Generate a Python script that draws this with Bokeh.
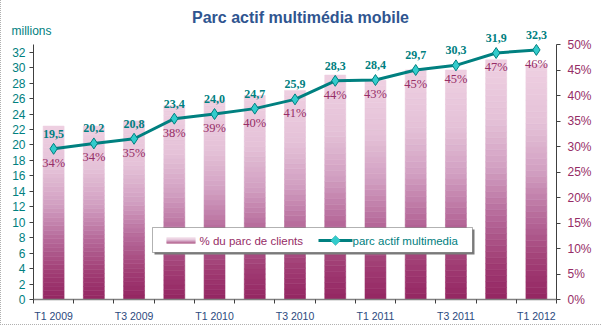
import numpy as np
from bokeh.plotting import figure
from bokeh.models import (Range1d, LinearAxis, FixedTicker, PrintfTickFormatter, CustomJSTickFormatter,
                          ColumnDataSource, LabelSet, Label, BoxAnnotation, PolyAnnotation,
                          InlineStyleSheet)
from bokeh.embed import file_html
from bokeh.resources import INLINE

# ---------------- data ----------------
quarters = ["T1 2009", "T2 2009", "T3 2009", "T4 2009",
            "T1 2010", "T2 2010", "T3 2010", "T4 2010",
            "T1 2011", "T2 2011", "T3 2011", "T4 2011",
            "T1 2012"]
parc_millions = [19.5, 20.2, 20.8, 23.4, 24.0, 24.7, 25.9, 28.3, 28.4, 29.7, 30.3, 31.9, 32.3]
pct_clients = [34, 34, 35, 38, 39, 40, 41, 44, 43, 45, 45, 47, 46]
left_ticks = list(range(0, 33, 2))
right_ticks = list(range(0, 51, 5))
LEFT_MAX, RIGHT_MAX = 33, 50

FONT = "Liberation Sans"
TEAL = "#008080"
MAROON = "#962D66"
NAVY = "#2B4A7E"

# layout (pixels)
W, H = 601, 326
FRAME_L, FRAME_R, AXIS_TOP, FRAME_B = 33, 556, 44, 299
ext = FRAME_B / (FRAME_B - AXIS_TOP)   # frame reaches the top of the canvas

xs = list(range(len(quarters)))

p = figure(width=W, height=H, output_backend="svg", toolbar_location=None,
           x_range=Range1d(-0.5, len(quarters) - 0.5), y_range=Range1d(0, LEFT_MAX * ext),
           min_border_left=FRAME_L, min_border_right=W - FRAME_R, min_border_top=0,
           min_border_bottom=H - FRAME_B,
           background_fill_color="white", border_fill_color="white")
p.outline_line_color = None
p.xgrid.visible = False
p.ygrid.visible = False
p.extra_y_ranges = {"pct": Range1d(0, RIGHT_MAX * ext)}
p.stylesheets = [InlineStyleSheet(css="""
:host { position: relative; }
:host::after { content: ""; position: absolute; left: 0; top: 0; right: 0; bottom: 1px;
  box-sizing: border-box; border-left: 1px dotted #b0b0b0; border-bottom: 1px dotted #b0b0b0;
  pointer-events: none; z-index: 100; }
""")]

# ---------------- gradient bars ----------------
stops = [(0.0, (148, 38, 98)), (0.15, (160, 60, 115)), (0.35, (182, 106, 154)),
         (0.55, (210, 160, 194)), (0.75, (228, 193, 215)), (1.0, (239, 208, 226))]

def grad(f):
    for (f0, c0), (f1, c1) in zip(stops[:-1], stops[1:]):
        if f <= f1:
            t = (f - f0) / (f1 - f0)
            c = [int(round(a + (b - a) * t)) for a, b in zip(c0, c1)]
            return "#%02x%02x%02x" % tuple(c)
    return "#%02x%02x%02x" % stops[-1][1]

N = 40
bx, bb, bt, bc = [], [], [], []
for x, v in zip(xs, pct_clients):
    for k in range(N):
        bx.append(x)
        bb.append(v * k / N)
        bt.append(v * (k + 1) / N)
        bc.append(grad((k + 0.5) / N))
bars = ColumnDataSource(dict(x=bx, bottom=bb, top=bt, color=bc))
p.vbar(x="x", bottom="bottom", top="top", width=0.52, source=bars, y_range_name="pct",
       fill_color="color", line_color="color", line_width=0.6)

# ---------------- line ----------------
src = ColumnDataSource(dict(
    x=xs, parc=parc_millions,
    vlab=[("%.1f" % v).replace(".", ",") for v in parc_millions],
    plab=["%d%%" % v for v in pct_clients]))
p.line("x", "parc", source=src, line_color=TEAL, line_width=3)
p.scatter("x", "parc", source=src, marker="diamond", size=11,
          fill_color="#33CCCC", line_color=TEAL, line_width=1)

p.add_layout(LabelSet(x="x", y="parc", text="vlab", source=src, y_offset=15,
                      text_align="center", text_baseline="middle",
                      text_font=FONT, text_font_size="12px", text_font_style="bold",
                      text_color=TEAL))
p.add_layout(LabelSet(x="x", y="parc", text="plab", source=src, y_offset=-14,
                      text_align="center", text_baseline="middle",
                      text_font=FONT, text_font_size="12.5px", text_color=MAROON))

# ---------------- axes ----------------
ly = p.yaxis[0]
ly.ticker = FixedTicker(ticks=left_ticks)
ly.bounds = (0, LEFT_MAX)
ly.major_tick_out = 4
ly.major_tick_in = 0
ly.minor_tick_out = 0
ly.minor_tick_in = 0
ly.axis_line_color = "#404040"
ly.major_tick_line_color = "#404040"
ly.major_label_standoff = 4
ly.major_label_text_color = TEAL
ly.major_label_text_font = FONT
ly.major_label_text_font_size = "12px"

# unit caption "millions" drawn as the single label of an extra, line-less left axis
unit_axis = LinearAxis(ticker=FixedTicker(ticks=[(FRAME_B - 30) / (FRAME_B - AXIS_TOP) * LEFT_MAX]),
                       formatter=CustomJSTickFormatter(code="return 'millions';"))
unit_axis.axis_line_color = None
unit_axis.major_tick_line_color = None
unit_axis.minor_tick_line_color = None
unit_axis.major_tick_out = 0
unit_axis.major_tick_in = 0
unit_axis.minor_tick_out = 0
unit_axis.minor_tick_in = 0
unit_axis.major_label_standoff = -42
unit_axis.major_label_text_color = TEAL
unit_axis.major_label_text_font = FONT
unit_axis.major_label_text_font_size = "12px"
p.add_layout(unit_axis, "left")

ry = LinearAxis(y_range_name="pct", ticker=FixedTicker(ticks=right_ticks),
                formatter=PrintfTickFormatter(format="%d%%"))
ry.bounds = (0, RIGHT_MAX)
ry.major_tick_out = 4
ry.major_tick_in = 0
ry.minor_tick_out = 0
ry.minor_tick_in = 0
ry.axis_line_color = "#404040"
ry.major_tick_line_color = "#404040"
ry.major_label_standoff = 7
ry.major_label_text_color = MAROON
ry.major_label_text_font = FONT
ry.major_label_text_font_size = "12px"
p.add_layout(ry, "right")

bx_axis = p.xaxis[0]
shown = xs[::2]
bx_axis.ticker = FixedTicker(ticks=shown, minor_ticks=[x - 0.5 for x in xs] + [xs[-1] + 0.5])
bx_axis.major_label_overrides = {x: quarters[x] for x in shown}
bx_axis.major_tick_out = 0
bx_axis.major_tick_in = 0
bx_axis.minor_tick_out = 4
bx_axis.minor_tick_in = 0
bx_axis.axis_line_color = "#808080"
bx_axis.axis_line_width = 1.5
bx_axis.minor_tick_line_color = "#404040"
bx_axis.major_label_standoff = 6
bx_axis.major_label_text_color = NAVY
bx_axis.major_label_text_font = FONT
bx_axis.major_label_text_font_size = "10.5px"

# ---------------- title ----------------
p.add_layout(Label(x=300 - FRAME_L, y=FRAME_B - 17, x_units="screen", y_units="screen",
                   text="Parc actif multimédia mobile", text_align="center",
                   text_baseline="middle", text_font=FONT, text_font_size="16px",
                   text_font_style="bold", text_color="#2F5590"))

# ---------------- legend (manual) ----------------
def sbox(l, r, b, t, **kw):
    return BoxAnnotation(left=l, right=r, bottom=b, top=t, left_units="screen",
                         right_units="screen", bottom_units="screen", top_units="screen",
                         level="overlay", **kw)

p.add_layout(sbox(121, 441, 45, 70, fill_color="#7a7a7a", fill_alpha=1, line_color=None))
p.add_layout(sbox(119, 439, 47, 72, fill_color="white", fill_alpha=1,
                  line_color="black", line_width=1))
for i in range(6):
    p.add_layout(sbox(133, 162, 56 + i, 57 + i, fill_color=grad((i + 0.5) / 6),
                      fill_alpha=1, line_color=None))
p.add_layout(Label(x=166, y=59, x_units="screen", y_units="screen", level="overlay",
                   text="% du parc de clients", text_align="left", text_baseline="middle",
                   text_font=FONT, text_font_size="11.5px", text_color=MAROON))
p.add_layout(sbox(285, 319, 57.5, 60.5, fill_color=TEAL, fill_alpha=1, line_color=None))
p.add_layout(PolyAnnotation(xs=[297, 302, 307, 302], ys=[59, 64, 59, 54],
                            xs_units="screen", ys_units="screen", level="overlay",
                            fill_color="#33CCCC", fill_alpha=1, line_color=TEAL, line_width=1))
p.add_layout(Label(x=319, y=59, x_units="screen", y_units="screen", level="overlay",
                   text="parc actif multimedia", text_align="left", text_baseline="middle",
                   text_font=FONT, text_font_size="11.5px", text_color=TEAL))

open("out.html", "w").write(file_html(p, INLINE))
